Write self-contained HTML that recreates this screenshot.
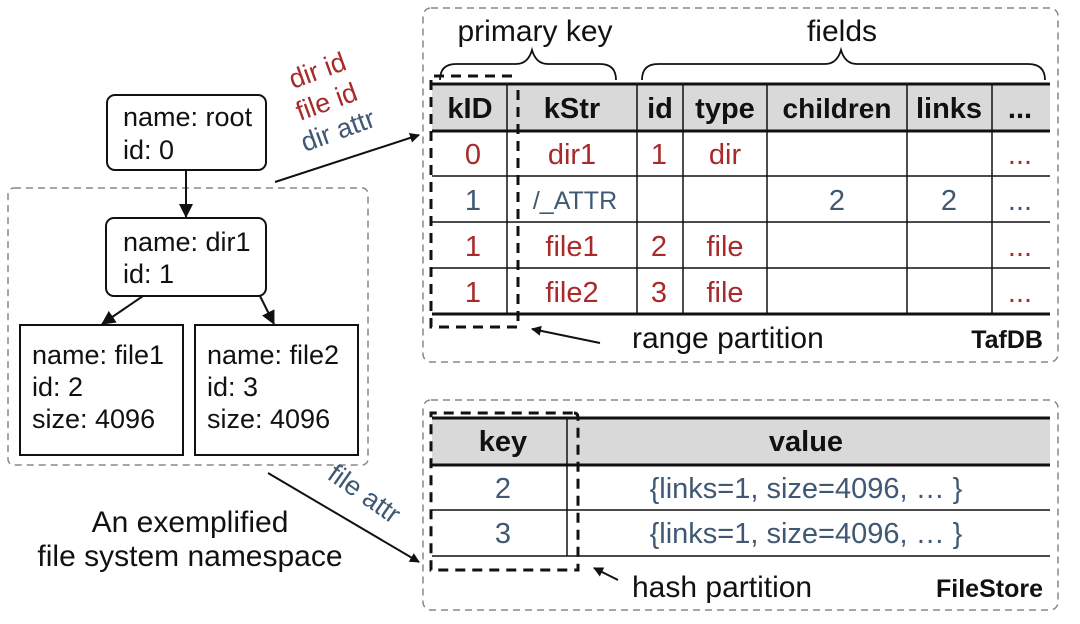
<!DOCTYPE html>
<html><head><meta charset="utf-8"><style>
html,body{margin:0;padding:0;background:#fff;}
svg{display:block;font-family:"Liberation Sans",sans-serif;}
</style></head><body>
<svg width="1080" height="624" viewBox="0 0 1080 624" xmlns="http://www.w3.org/2000/svg">
<defs>
<marker id="ah" markerWidth="10" markerHeight="10" refX="9" refY="5" orient="auto" markerUnits="userSpaceOnUse"><path d="M0,0 L10,5 L0,10 z" fill="#111"/></marker>
<marker id="ab" markerWidth="14" markerHeight="14" refX="13" refY="7" orient="auto" markerUnits="userSpaceOnUse"><path d="M0,0 L14,7 L0,14 z" fill="#111"/></marker>
</defs>

<rect x="423" y="8" width="635" height="354" rx="8" fill="none" stroke="#888" stroke-width="1.5" stroke-dasharray="7,5"/>
<rect x="423" y="400" width="635" height="210" rx="8" fill="none" stroke="#888" stroke-width="1.5" stroke-dasharray="7,5"/>
<rect x="8" y="188" width="360" height="277" rx="6" fill="none" stroke="#888" stroke-width="1.5" stroke-dasharray="7,5"/>

<!-- TafDB table -->
<rect x="432" y="84" width="618" height="47" fill="#d9d9d9"/>
<g stroke="#111" stroke-width="1.5">
<line x1="432" y1="84" x2="1050" y2="84" stroke-width="3"/>
<line x1="432" y1="131" x2="1050" y2="131" stroke-width="3"/>
<line x1="432" y1="176" x2="1050" y2="176"/>
<line x1="432" y1="222" x2="1050" y2="222"/>
<line x1="432" y1="268" x2="1050" y2="268"/>
<line x1="432" y1="314" x2="1050" y2="314" stroke-width="3"/>
<line x1="507" y1="84" x2="507" y2="314"/>
<line x1="637" y1="84" x2="637" y2="314"/>
<line x1="683" y1="84" x2="683" y2="314"/>
<line x1="767" y1="84" x2="767" y2="314"/>
<line x1="907" y1="84" x2="907" y2="314"/>
<line x1="992" y1="84" x2="992" y2="314"/>
</g>
<g font-size="29" text-anchor="middle" font-weight="bold" fill="#111">
<text x="470" y="118">kID</text><text x="572" y="118">kStr</text><text x="660" y="118">id</text>
<text x="725" y="118">type</text><text x="837" y="118" font-size="28">children</text><text x="949" y="118">links</text><text x="1020" y="118">...</text>
</g>
<g font-size="29" text-anchor="middle" fill="#a82a2a">
<text x="473" y="164">0</text><text x="572" y="164">dir1</text><text x="659" y="164">1</text><text x="725" y="164">dir</text><text x="1020" y="164">...</text>
<text x="473" y="256">1</text><text x="572" y="256">file1</text><text x="659" y="256">2</text><text x="725" y="256">file</text><text x="1020" y="256">...</text>
<text x="473" y="302">1</text><text x="572" y="302">file2</text><text x="659" y="302">3</text><text x="725" y="302">file</text><text x="1020" y="302">...</text>
</g>
<g font-size="29" text-anchor="middle" fill="#3f5873">
<text x="473" y="210">1</text><text x="575" y="209" font-size="25">/_ATTR</text><text x="837" y="210">2</text><text x="949" y="210">2</text><text x="1020" y="210">...</text>
</g>
<path d="M512,76 L431,76 L431,327 L518,327 L518,88" fill="none" stroke="#111" stroke-width="3" stroke-dasharray="10,7"/>
<g fill="none" stroke="#111" stroke-width="1.8">
<path d="M440,80 Q440,64 456,64 L516,64 Q528,64 532,50 Q536,64 548,64 L600,64 Q616,64 616,80"/>
<path d="M642,80 Q642,64 658,64 L825,64 Q837,64 841,50 Q845,64 857,64 L1028,64 Q1045,64 1045,80"/>
</g>
<g font-size="30" text-anchor="middle" fill="#111">
<text x="535" y="41">primary key</text><text x="842" y="41">fields</text>
</g>
<line x1="600" y1="343" x2="532" y2="329" stroke="#111" stroke-width="2" marker-end="url(#ah)"/>
<text x="632" y="348" font-size="30" fill="#111">range partition</text>
<text x="1043" y="348" font-size="25" font-weight="bold" text-anchor="end" fill="#111">TafDB</text>

<!-- FileStore table -->
<rect x="432" y="418" width="618" height="47" fill="#d9d9d9"/>
<g stroke="#111" stroke-width="1.5">
<line x1="432" y1="418" x2="1050" y2="418" stroke-width="3"/>
<line x1="432" y1="465" x2="1050" y2="465" stroke-width="3"/>
<line x1="432" y1="510" x2="1050" y2="510"/>
<line x1="432" y1="556" x2="1050" y2="556"/>
<line x1="567" y1="418" x2="567" y2="556"/>
</g>
<g font-size="29" text-anchor="middle" font-weight="bold" fill="#111">
<text x="503" y="451">key</text><text x="806" y="451">value</text>
</g>
<g font-size="29" text-anchor="middle" fill="#3f5873">
<text x="503" y="498">2</text><text x="806" y="498">{links=1, size=4096, … }</text>
<text x="503" y="543">3</text><text x="806" y="543">{links=1, size=4096, … }</text>
</g>
<path d="M574,413 Q578,413 578,418 L578,570 L431,570 L431,413 Z" fill="none" stroke="#111" stroke-width="3" stroke-dasharray="10,7"/>
<line x1="618" y1="580" x2="594" y2="568" stroke="#111" stroke-width="2" marker-end="url(#ah)"/>
<text x="632" y="597" font-size="30" fill="#111">hash partition</text>
<text x="1043" y="597" font-size="25" font-weight="bold" text-anchor="end" fill="#111">FileStore</text>

<!-- tree -->
<g fill="#fff" stroke="#111" stroke-width="2">
<rect x="107" y="95" width="159" height="75" rx="8"/>
<rect x="106" y="218" width="160" height="78" rx="8"/>
<rect x="20" y="325" width="163" height="130"/>
<rect x="195" y="325" width="163" height="130"/>
</g>
<g font-size="27" fill="#111">
<text x="123" y="126">name: root</text><text x="123" y="159">id: 0</text>
<text x="123" y="251">name: dir1</text><text x="123" y="283">id: 1</text>
<text x="32" y="364">name: file1</text><text x="32" y="396">id: 2</text><text x="32" y="428">size: 4096</text>
<text x="207" y="364">name: file2</text><text x="207" y="396">id: 3</text><text x="207" y="428">size: 4096</text>
</g>
<g stroke="#111" stroke-width="2">
<line x1="186" y1="170" x2="186" y2="217" marker-end="url(#ab)"/>
<line x1="143" y1="296" x2="102" y2="324" marker-end="url(#ab)"/>
<line x1="260" y1="296" x2="274" y2="324" marker-end="url(#ab)"/>
<line x1="275" y1="182" x2="419" y2="135" marker-end="url(#ah)"/>
<line x1="268" y1="473" x2="419" y2="562" marker-end="url(#ah)"/>
</g>
<g font-size="27">
<text transform="translate(293,89) rotate(-20)" fill="#a82a2a">dir id</text>
<text transform="translate(300,121) rotate(-20)" fill="#a82a2a">file id</text>
<text transform="translate(305,152) rotate(-20)" fill="#3f5873">dir attr</text>
<text transform="translate(326,478) rotate(35)" fill="#3f5873">file attr</text>
</g>
<g font-size="30" text-anchor="middle" fill="#111">
<text x="190" y="532">An exemplified</text><text x="190" y="566">file system namespace</text>
</g>
</svg>
</body></html>
